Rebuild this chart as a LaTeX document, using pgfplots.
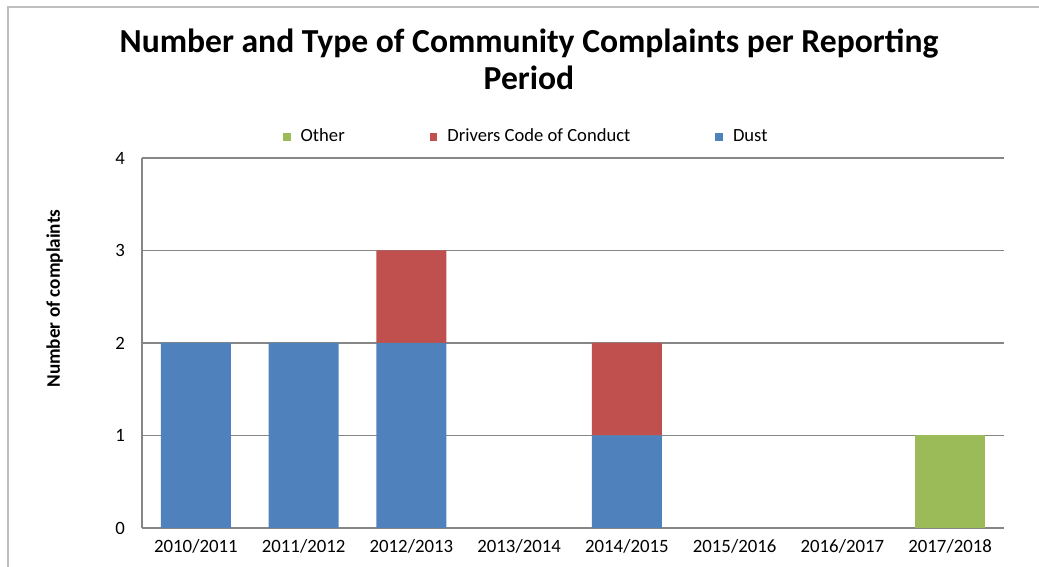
\documentclass[border=0pt]{standalone}
\usepackage{fontspec}
\setmainfont{Carlito}
\usepackage{pgfplots}
\pgfplotsset{compat=1.18}
\definecolor{dust}{RGB}{79,129,189}
\definecolor{drivers}{RGB}{192,80,77}
\definecolor{other}{RGB}{155,187,89}
\definecolor{gridg}{RGB}{134,134,134}
\definecolor{frameg}{RGB}{190,190,190}
\begin{document}
\begin{tikzpicture}
\path[use as bounding box] (0,0) rectangle (519.5pt,283.5pt);
\draw[frameg,line width=0.8pt] (4pt,0) -- (4pt,280pt) -- (519.5pt,280pt);
\node[font=\bfseries\fontsize{16.8}{18.5}\selectfont,align=center] at (264.5pt,254pt)
  {Number and Type of Community Complaints per Reporting\\Period};
\begin{axis}[scale only axis,width=431pt,height=185pt,
  at={(71pt,19.5pt)},anchor=south west,
  ybar stacked,bar width=35pt,
  xmin=-0.5,xmax=7.5,ymin=0,ymax=4,
  xtick={0,...,7},
  xticklabels={2010/2011,2011/2012,2012/2013,2013/2014,2014/2015,2015/2016,2016/2017,2017/2018},
  ytick={0,1,2,3,4},
  major tick length=0pt,
  ymajorgrids,grid style={gridg,line width=0.6pt},
  axis x line*=bottom,axis y line*=left,
  axis line style={gridg,line width=0.6pt,-},
  tick label style={font=\fontsize{9.4}{10}\selectfont},
  /pgf/number format/assume math mode=true,
  xticklabel style={yshift=-2pt},
  yticklabel style={xshift=-5pt},
  ylabel={\textbf{Number of complaints}},
  ylabel style={font=\fontsize{9.6}{10}\selectfont,at={(-36pt,0.62)}},
  legend columns=3,reverse legend,
  legend style={draw=none,fill=none,at={(0.447,1.057)},anchor=center,
    font=\fontsize{9.3}{10}\selectfont,/tikz/every even column/.append style={column sep=40.5pt}},
  legend image code/.code={\fill[#1] (0pt,-1.9pt) rectangle (3.8pt,1.9pt);
    \path (6.8pt,0pt);},
  ]
\addplot[fill=dust,draw=none] coordinates {(0,2)(1,2)(2,2)(3,0)(4,1)(5,0)(6,0)(7,0)};
\addlegendentry{Dust}
\addplot[fill=drivers,draw=none] coordinates {(0,0)(1,0)(2,1)(3,0)(4,1)(5,0)(6,0)(7,0)};
\addlegendentry{Drivers Code of Conduct}
\addplot[fill=other,draw=none] coordinates {(0,0)(1,0)(2,0)(3,0)(4,0)(5,0)(6,0)(7,1)};
\addlegendentry{Other}
\end{axis}
\end{tikzpicture}
\end{document}
